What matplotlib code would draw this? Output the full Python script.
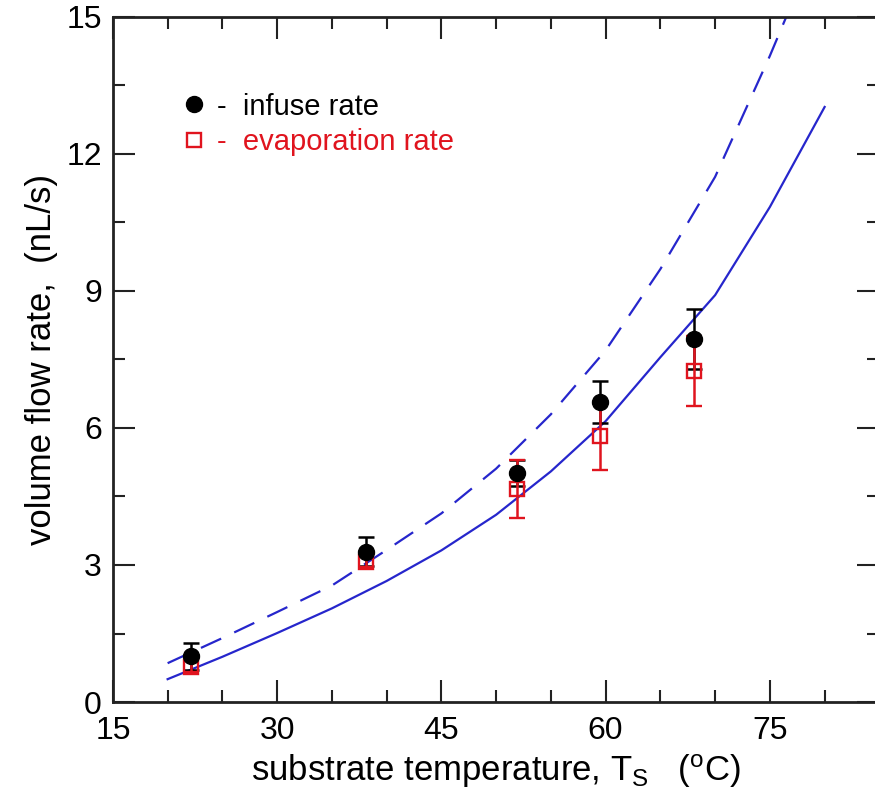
import matplotlib
matplotlib.use('Agg')
import matplotlib.pyplot as plt
from matplotlib.lines import Line2D
from matplotlib.ticker import MultipleLocator

plt.rcParams['font.family'] = ['Liberation Sans', 'DejaVu Sans']
plt.rcParams['mathtext.default'] = 'regular'

# model curves (nL/s) vs substrate temperature
t_model = [20, 25, 30, 35, 40, 45, 50, 55, 60, 65, 70, 75, 80]
rate_solid = [0.50, 0.99, 1.51, 2.05, 2.65, 3.32, 4.10, 5.05, 6.15, 7.55, 8.91, 10.84, 13.03]
rate_dashed = [0.85, 1.40, 1.97, 2.55, 3.33, 4.13, 5.11, 6.30, 7.70, 9.48, 11.50, 14.15, 17.0]

# measurements
t_exp = [22.1, 38.1, 51.9, 59.5, 68.1]
infuse = [1.00, 3.29, 5.01, 6.57, 7.95]
infuse_err = [0.29, 0.32, 0.28, 0.46, 0.65]
evap = [0.77, 3.07, 4.66, 5.82, 7.25]
evap_err = [0.12, 0.12, 0.64, 0.74, 0.77]

blue = '#2626cc'
red = '#e0141e'

fig = plt.figure(figsize=(8.75, 7.98), dpi=100)
ax = fig.add_axes([0.129, 0.1203, 0.876, 0.8584])

ax.plot(t_model, rate_solid, color=blue, lw=1.6)
ax.plot(t_model, rate_dashed, color=blue, lw=1.6, linestyle=(0, (10, 6.5)))

# error bars first, markers on top
ax.errorbar(t_exp, infuse, yerr=infuse_err, fmt='none', ecolor='black',
            elinewidth=1.8, capsize=5.5, capthick=1.8, zorder=3)
ax.errorbar(t_exp, evap, yerr=evap_err, fmt='s', color=red, mfc='none',
            mec=red, mew=1.7, ms=10, ecolor=red, elinewidth=1.8,
            capsize=5.5, capthick=1.8, zorder=4)
ax.plot(t_exp, infuse, 'o', color='black', ms=11.5, zorder=5)

ax.set_xlim(15, 85)
ax.set_ylim(0, 15)
ax.xaxis.set_major_locator(MultipleLocator(15))
ax.xaxis.set_minor_locator(MultipleLocator(5))
ax.yaxis.set_major_locator(MultipleLocator(3))
ax.yaxis.set_minor_locator(MultipleLocator(1.5))
ax.tick_params(which='both', direction='in', top=True, right=True,
               width=1.5, color='#222222')
ax.tick_params(which='major', length=16, labelsize=23, pad=8)
ax.tick_params(axis='x', which='major', pad=10)
ax.tick_params(which='minor', length=8.5)
for s in ax.spines.values():
    s.set_linewidth(2)
    s.set_color('#222222')

ax.set_xlabel(r'substrate temperature, T$_S$   ($^o$C)', fontsize=25, labelpad=5)
ax.set_ylabel('volume flow rate,  (nL/s)', fontsize=25, labelpad=6)

handles = [
    Line2D([], [], marker='o', color='black', ls='none', ms=11.5),
    Line2D([], [], marker='s', color=red, mfc='none', mew=1.7, ls='none', ms=10),
]
ax.legend(handles, ['-  infuse rate', '-  evaporation rate'], loc='upper left',
          bbox_to_anchor=(0.052, 0.928), frameon=False, fontsize=21,
          labelcolor=['black', red], handlelength=1.0, handletextpad=0.3,
          labelspacing=0.25)

fig.savefig('out.png', dpi=100)
